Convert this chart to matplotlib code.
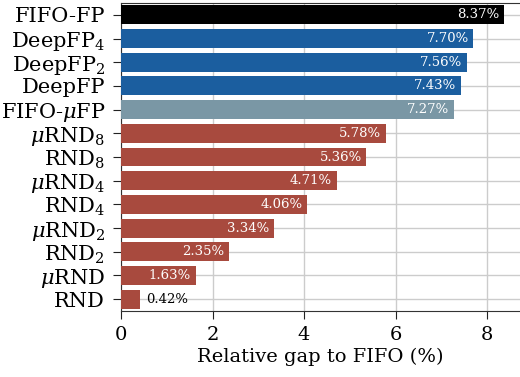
import matplotlib
matplotlib.use("Agg")
import matplotlib.pyplot as plt

plt.rcParams["font.family"] = "DejaVu Serif"
plt.rcParams["mathtext.fontset"] = "dejavuserif"

# methods, top to bottom
methods = ["FIFO-FP", "DeepFP$_4$", "DeepFP$_2$", "DeepFP", "FIFO-$\\mu$FP",
           "$\\mu$RND$_8$", "RND$_8$", "$\\mu$RND$_4$", "RND$_4$",
           "$\\mu$RND$_2$", "RND$_2$", "$\\mu$RND", "RND"]
gaps = [8.37, 7.70, 7.56, 7.43, 7.27, 5.78, 5.36, 4.71, 4.06, 3.34, 2.35, 1.63, 0.42]
groups = ["ref", "deep", "deep", "deep", "micro",
          "rnd", "rnd", "rnd", "rnd", "rnd", "rnd", "rnd", "rnd"]

palette = {"ref": "#000000", "deep": "#1b5e9f", "micro": "#7a97a5", "rnd": "#a84a3e"}

fig, ax = plt.subplots(figsize=(5.2, 3.77), dpi=100)
fig.subplots_adjust(left=0.233, right=1.0, top=0.992, bottom=0.175)

ypos = list(range(len(methods)))[::-1]
ax.barh(ypos, gaps, height=0.8, color=[palette[g] for g in groups], zorder=3)

for y, v in zip(ypos, gaps):
    if v < 1.0:
        ax.text(v + 0.12, y, f"{v:.2f}%", va="center", ha="left",
                fontsize=9.5, color="black", zorder=4)
    else:
        ax.text(v - 0.1, y, f"{v:.2f}%", va="center", ha="right",
                fontsize=9.5, color="white", zorder=4)

ax.set_yticks(ypos)
ax.set_yticklabels(methods, fontsize=15)
ax.set_ylim(-0.5, len(methods) - 0.5)
ax.set_xlim(0, 8.72)
ax.set_xticks([0, 2, 4, 6, 8])
ax.tick_params(axis="x", labelsize=14, length=5.5, pad=5, color="#222222")
ax.tick_params(axis="y", length=5.5, pad=6, color="#222222")
ax.set_xlabel("Relative gap to FIFO (%)", fontsize=14, labelpad=3)

ax.grid(True, color="#cccccc", linewidth=1.0, zorder=0)
ax.set_axisbelow(True)
ax.spines["right"].set_visible(False)
for s in ["left", "bottom", "top"]:
    ax.spines[s].set_color("#333333")

plt.savefig("out.png", dpi=100)
plt.close()
